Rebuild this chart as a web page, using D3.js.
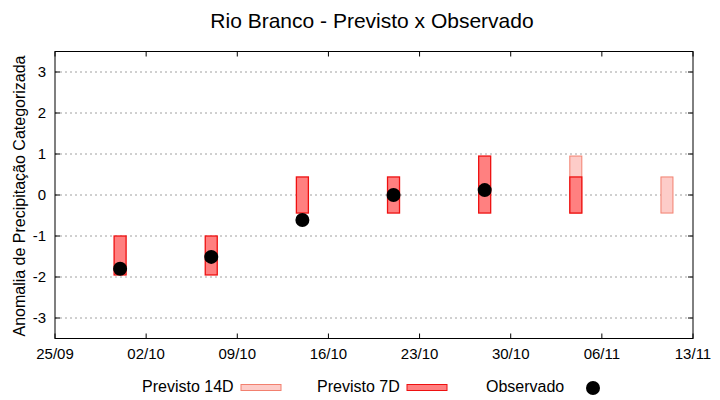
<!DOCTYPE html>
<html>
<head>
<meta charset="utf-8">
<script src="https://cdn.jsdelivr.net/npm/d3@7"></script>
<style>
  body { margin: 0; background: #fff; }
  svg { font-family: "Liberation Sans", Arial, sans-serif; }
</style>
</head>
<body>
<svg id="chart" width="720" height="400"></svg>
<script>
// datas das previsoes (semanas)
const dates = ["2023-09-30", "2023-10-07", "2023-10-14", "2023-10-21", "2023-10-28", "2023-11-04", "2023-11-11"];
// previsto 7 dias: [min, max]
const prev7Low  = [-1.95, -1.95, -0.44, -0.44, -0.44, -0.44, null];
const prev7High = [-1, -1, 0.44, 0.44, 0.95, 0.44, null];
// previsto 14 dias
const prev14Low  = [null, null, null, null, null, -0.44, -0.44];
const prev14High = [null, null, null, null, null, 0.95, 0.44];
// observado
const observado = [-1.8, -1.51, -0.61, 0, 0.12, null, null];
const yTicks = [-3, -2, -1, 0, 1, 2, 3];
const xTicks = ["2023-09-25", "2023-10-02", "2023-10-09", "2023-10-16", "2023-10-23", "2023-10-30", "2023-11-06", "2023-11-13"];

const parse = d3.utcParse("%Y-%m-%d");
const fmt = d3.utcFormat("%d/%m");

const svg = d3.select("#chart");
const L = 55, R = 693, T = 51.5, B = 338.5;

const x = d3.scaleUtc().domain([parse("2023-09-25"), parse("2023-11-13")]).range([L, R]);
const y = d3.scaleLinear().domain([-3.5, 3.5]).range([B, T]);
const barW = 12;

// grid
svg.append("g").selectAll("line").data(yTicks).join("line")
  .attr("x1", L).attr("x2", R)
  .attr("y1", d => y(d)).attr("y2", d => y(d))
  .attr("stroke", "#a0a0a0").attr("stroke-dasharray", "2,3").attr("stroke-width", 1);

// eixos
const tickLen = 5;
const gy = svg.append("g").attr("font-size", 15).attr("fill", "#000");
yTicks.forEach(v => {
  gy.append("line").attr("x1", L).attr("x2", L + tickLen).attr("y1", y(v)).attr("y2", y(v)).attr("stroke", "#000");
  gy.append("line").attr("x1", R).attr("x2", R - tickLen).attr("y1", y(v)).attr("y2", y(v)).attr("stroke", "#000");
  gy.append("text").attr("x", L - 9).attr("y", y(v)).attr("dy", "0.35em").attr("text-anchor", "end").text(v);
});
const gx = svg.append("g").attr("font-size", 15);
xTicks.forEach(s => {
  const px = x(parse(s));
  gx.append("line").attr("x1", px).attr("x2", px).attr("y1", B).attr("y2", B - tickLen).attr("stroke", "#000");
  gx.append("line").attr("x1", px).attr("x2", px).attr("y1", T).attr("y2", T + tickLen).attr("stroke", "#000");
  gx.append("text").attr("x", px).attr("y", B + 20).attr("text-anchor", "middle")
    .attr("font-family", "'Liberation Sans Narrow', 'Liberation Sans', sans-serif").text(fmt(parse(s)));
});
svg.append("rect").attr("x", L).attr("y", T).attr("width", R - L).attr("height", B - T)
  .attr("fill", "none").attr("stroke", "#000").attr("stroke-width", 1);

// barras 14D
const d14 = dates.map((d, i) => ({ d: parse(d), lo: prev14Low[i], hi: prev14High[i] })).filter(o => o.lo != null);
svg.append("g").selectAll("rect").data(d14).join("rect")
  .attr("x", o => x(o.d) - barW / 2).attr("width", barW)
  .attr("y", o => y(o.hi)).attr("height", o => y(o.lo) - y(o.hi))
  .attr("fill", "#fdccc8").attr("stroke", "#f2806f").attr("stroke-width", 1);

// barras 7D
const d7 = dates.map((d, i) => ({ d: parse(d), lo: prev7Low[i], hi: prev7High[i] })).filter(o => o.lo != null);
svg.append("g").selectAll("rect").data(d7).join("rect")
  .attr("x", o => x(o.d) - barW / 2).attr("width", barW)
  .attr("y", o => y(o.hi)).attr("height", o => y(o.lo) - y(o.hi))
  .attr("fill", "#ff8080").attr("stroke", "#ee1111").attr("stroke-width", 1.3);

// observado
const obs = dates.map((d, i) => ({ d: parse(d), v: observado[i] })).filter(o => o.v != null);
svg.append("g").selectAll("circle").data(obs).join("circle")
  .attr("cx", o => x(o.d)).attr("cy", o => y(o.v)).attr("r", 7).attr("fill", "#000");

// titulo
svg.append("text").attr("x", 372).attr("y", 28).attr("text-anchor", "middle")
  .attr("font-size", 21).text("Rio Branco - Previsto x Observado");
svg.append("text").attr("transform", "translate(25,196) rotate(-90)").attr("text-anchor", "middle")
  .attr("font-size", 16).text("Anomalia de Precipitação Categorizada");

// legenda
const lg = svg.append("g").attr("font-size", 16);
lg.append("text").attr("x", 142).attr("y", 392).text("Previsto 14D");
lg.append("rect").attr("x", 241).attr("y", 384.5).attr("width", 40).attr("height", 6)
  .attr("fill", "#fdccc8").attr("stroke", "#f2806f");
lg.append("text").attr("x", 317).attr("y", 392).text("Previsto 7D");
lg.append("rect").attr("x", 407).attr("y", 384.5).attr("width", 40).attr("height", 6)
  .attr("fill", "#ff8080").attr("stroke", "#ee1111");
lg.append("text").attr("x", 486).attr("y", 392).text("Observado");
lg.append("circle").attr("cx", 593).attr("cy", 388).attr("r", 7).attr("fill", "#000");
</script>
</body>
</html>
